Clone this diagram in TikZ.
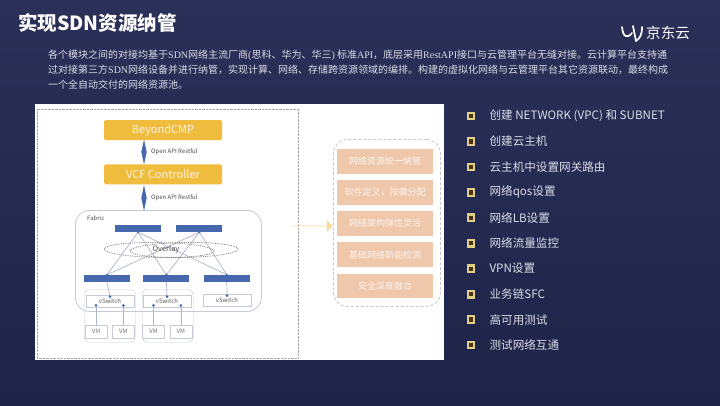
\documentclass[tikz,border=0pt]{standalone}
\usepackage{fontspec}
\setmainfont{Noto Sans CJK SC}
\newfontfamily\latnserif{Liberation Serif}
\usetikzlibrary{positioning,arrows.meta,calc,shapes.arrows,shapes.geometric}

\definecolor{pagetop}{HTML}{2B3058}
\definecolor{pagebot}{HTML}{1E2448}
\definecolor{gold}{HTML}{F0BC3E}
\definecolor{barblue}{HTML}{4668AE}
\definecolor{peach}{HTML}{EFC8AC}
\definecolor{graybox}{HTML}{C6CAD6}
\definecolor{wire}{HTML}{AEB5C8}
\definecolor{tickc}{HTML}{E0CE8A}
\definecolor{tickf}{HTML}{4A3414}
\definecolor{itemc}{HTML}{DADCE8}
\newcommand{\ls}[1]{{\latnserif #1}}

\begin{document}
\begin{tikzpicture}[
  x=1pt, y=-1pt,
  font=\fontsize{10}{12}\selectfont,
  ctrl/.style={fill=gold, rounded corners=1.5pt, text=white!85!gold, minimum width=118pt,
               minimum height=20pt, inner sep=0pt, font=\fontsize{11}{12}\selectfont},
  bar/.style={fill=barblue, minimum width=46pt, minimum height=7pt, inner sep=0pt},
  vsw/.style={draw=graybox, fill=white, minimum width=48pt, minimum height=11.5pt, inner sep=0pt,
              font=\fontsize{6}{6}\selectfont, text=black!65},
  vm/.style={draw=graybox, fill=white, minimum width=22pt, minimum height=13pt, inner sep=0pt,
             font=\fontsize{6}{6}\selectfont, text=black!55},
  grp/.style={draw=graybox, rounded corners=5pt, minimum width=51pt, minimum height=53pt,
              inner sep=0pt, anchor=north west},
  apilab/.style={font=\fontsize{6}{6}\selectfont, text=black!70, anchor=west, inner sep=0pt},
  link/.style={draw=wire, line width=0.7pt},
  jdot/.style={circle, fill=barblue, minimum size=3pt, inner sep=0pt},
  dbl/.style={diamond, fill=barblue, aspect=0.2, minimum width=5.5pt, inner sep=0pt},
  feat/.style={fill=peach, text=white!80!peach, minimum width=96pt, minimum height=24.5pt, inner sep=0pt,
               font=\fontsize{9}{10}\selectfont},
  tick/.style={draw=tickc, fill=tickf, line width=2.2pt, minimum size=6.5pt, inner sep=0pt},
  item/.style={text=itemc, anchor=west, inner sep=0pt, font=\fontsize{11.6}{14}\selectfont},
  ring/.style={ellipse, draw=black!50, densely dotted, thick, inner sep=0pt},
]

\useasboundingbox (0,0) rectangle (720,405);
\shade[top color=pagetop, bottom color=pagebot] (0,0) rectangle (720,405);

%% ---------- heading and intro ----------
\node[anchor=west, inner sep=0pt, text=white, font=\fontsize{19.5}{22}\selectfont\bfseries] (title)
  at (18,23) {实现SDN资源纳管};

\node[anchor=west, inner sep=0pt, text=white, font=\fontsize{14.6}{16}\selectfont] (brand)
  at (646,33) {京东云};
\draw[white, line width=1.7pt, line cap=round, line join=round]
  (622,27) .. controls (623,37) and (627,39) .. (632,33);
\draw[white, line width=1.7pt, line cap=round] (633,26) -- (636,41);
\draw[white, line width=1.7pt, line cap=round]
  (642,27) .. controls (642,35) and (640,38) .. (636,41);

\node[anchor=north west, inner sep=0pt, text=itemc, align=left, font=\fontsize{10}{15}\selectfont] (intro)
  at (48,49.5) {各个模块之间的对接均基于\ls{SDN}网络主流厂商\ls{(}思科、华为、华三\ls{)} 标准\ls{API}，底层采用\ls{RestAPI}接口与云管理平台无缝对接。云计算平台支持通\\
  过对接第三方\ls{SDN}网络设备并进行纳管，实现计算、网络、存储跨资源领域的编排。构建的虚拟化网络与云管理平台其它资源联动，最终构成\\
  一个全自动交付的网络资源池。};

%% ---------- white panel ----------
\node[fill=white, minimum width=409pt, minimum height=256pt, inner sep=0pt, anchor=north west] (panel)
  at (35,104) {};
\node[draw=black!35, densely dotted, minimum width=261pt, minimum height=249pt, inner sep=0pt, anchor=north west] (frame)
  at (37,108.5) {};

\node[ctrl] (cmp) at (163,130) {BeyondCMP};
\node[ctrl, below=24pt of cmp] (vcf) {VCF Controller};

%% fabric container
\node[draw=graybox, thick, rounded corners=14pt, minimum width=186pt, minimum height=101pt, inner sep=0pt,
      anchor=north west] (fabric) at (75,210) {};
\node[anchor=west, inner sep=0pt, font=\fontsize{6}{6}\selectfont, text=black!70] (fablab) at (87,218) {Fabric};

\node[dbl, minimum height=25pt] (api1) at (144,152) {};
\node[dbl, minimum height=26pt] (api2) at (144,198) {};
\node[apilab] (api1lab) at (151,152) {Open API Restful};
\node[apilab] (api2lab) at (151,198) {Open API Restful};

\node[bar] (spa) at (138,228.5) {};
\node[bar, right=15pt of spa] (spb) {};
\node[bar] (lfa) at (107,278.5) {};
\node[bar, right=13pt of lfa] (lfb) {};
\node[bar, right=14pt of lfb] (lfc) {};

%% spine to leaf mesh
\foreach \sp in {spa,spb}
  \foreach \lf in {lfa,lfb,lfc}
    \draw[link] (\sp.south) -- (\lf.north);
\foreach \nd in {spa.south,spb.south,lfa.north,lfb.north,lfc.north}
  \node[jdot, minimum size=2.5pt] at (\nd) {};

\node[ring, minimum width=110pt, minimum height=15pt, rotate=-1] (ringa) at (159,250) {};
\node[ring, minimum width=108pt, minimum height=15pt, rotate=1] (ringb) at (184,250) {};
\node[inner sep=0pt, font=\fontsize{7.5}{8}\selectfont, text=black!70] (overlay) at (166,249.5) {Overlay};

\node[vsw] (vsa) at (110,301) {vSwitch};
\node[vsw] (vsb) at (167,301) {vSwitch};
\node[vsw] (vsc) at (227,300) {vSwitch};

\node[vm] (vma) at (96,331.5) {VM};
\node[vm, right=5pt of vma] (vmb) {VM};
\node[vm] (vmc) at (153.5,331.5) {VM};
\node[vm, right=5pt of vmc] (vmd) {VM};

\node[grp] (grpa) at (84,289) {};
\node[grp] (grpb) at (142,289) {};

%% leaf to vSwitch, vSwitch to VM
\foreach \lf/\vs in {lfa/vsa,lfb/vsb,lfc/vsc}
{
  \node[jdot] (\vs top) at ($(\vs.north)+(0,1.5)$) {};
  \draw[link] (\lf.south) -- (\vs top);
}
\foreach \vs/\vmn in {vsa/vma,vsa/vmb,vsb/vmc,vsb/vmd}
{
  \node[jdot] (\vmn top) at ($(\vs.south -| \vmn)+(0,-1.5)$) {};
  \draw[link] (\vmn top) -- (\vmn.north);
}

%% ---------- summary column ----------
\node[draw=black!22, densely dashed, thick, rounded corners=14pt, minimum width=107pt, minimum height=167pt,
      inner sep=0pt, anchor=north west] (sumbox) at (333,139) {};
\node[feat] (fa) at (385,161.5) {网络资源统一纳管};
\node[feat, below=6pt of fa] (fb) {软件定义，按需分配};
\node[feat, below=6pt of fb] (fc) {网络架构弹性灵活};
\node[feat, below=6.5pt of fc] (fd) {基础网络新能检测};
\node[feat, below=6.5pt of fd] (fe) {安全深度融合};

\coordinate (srcpt) at (292,226);
\node[single arrow, fill=gold!55!white, minimum height=40pt, minimum width=11.5pt, inner sep=0pt,
      single arrow head extend=2.2pt, anchor=east] (goarrow) at (sumbox.west |- srcpt) {};

%% ---------- feature list ----------
\foreach \txt [count=\i] in {创建 NETWORK (VPC) 和 SUBNET,创建云主机,云主机中设置网关路由,网络qos设置,网络LB设置,
                             网络流量监控,VPN设置,业务链SFC,高可用测试,测试网络互通}
{
  \node[tick] (tick\i) at (471,{116+25.45*(\i-1)}) {};
  \node[item, right=14pt of tick\i] (item\i) {\txt};
}

\end{tikzpicture}
\end{document}
